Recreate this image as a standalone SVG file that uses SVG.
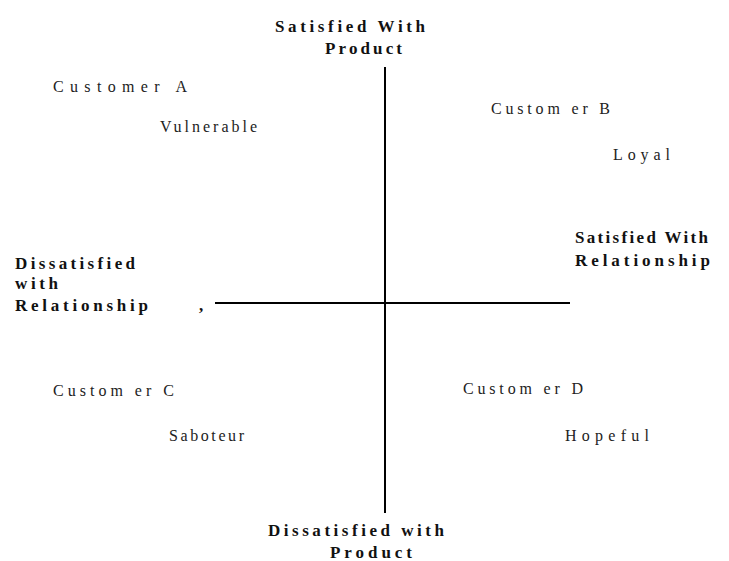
<svg xmlns="http://www.w3.org/2000/svg" width="729" height="561" viewBox="0 0 729 561">
<style>
.b{font-family:"Liberation Serif","Times New Roman",serif;font-weight:bold;font-size:17px;fill:#111}
.r{font-family:"Liberation Serif","Times New Roman",serif;font-size:16px;fill:#222}
.ax{stroke:#000;stroke-width:2;fill:none}
</style>
<rect width="729" height="561" fill="#fff"/>
<g id="connectors">
<line class="ax" x1="385" y1="67" x2="385" y2="513"/>
<line class="ax" x1="215" y1="303" x2="570" y2="303"/>
</g>
<g id="top-label"><text class="b" x="275" y="32" textLength="150" lengthAdjust="spacing">Satisfied With</text><text class="b" x="325" y="54" textLength="77" lengthAdjust="spacing">Product</text></g>
<g id="left-label"><text class="b" x="15" y="269" textLength="120" lengthAdjust="spacing">Dissatisfied</text><text class="b" x="15" y="289" textLength="43" lengthAdjust="spacing">with</text><text class="b" x="15" y="311" textLength="133" lengthAdjust="spacing">Relationship</text><text class="b" x="199" y="311">,</text></g>
<g id="right-label"><text class="b" x="575" y="243" textLength="133" lengthAdjust="spacing">Satisfied With</text><text class="b" x="575" y="266" textLength="135" lengthAdjust="spacing">Relationship</text></g>
<g id="bottom-label"><text class="b" x="268" y="536" textLength="176" lengthAdjust="spacing">Dissatisfied with</text><text class="b" x="330" y="558" textLength="82" lengthAdjust="spacing">Product</text></g>
<g id="customer-a"><text class="r" x="53" y="92" textLength="134" lengthAdjust="spacing">Customer A</text><text class="r" x="160" y="132" textLength="97" lengthAdjust="spacing">Vulnerable</text></g>
<g id="customer-b"><text class="r" x="491" y="114" textLength="119" lengthAdjust="spacing">Custom er B</text><text class="r" x="613" y="160" textLength="57" lengthAdjust="spacing">Loyal</text></g>
<g id="customer-c"><text class="r" x="53" y="396" textLength="121" lengthAdjust="spacing">Custom er C</text><text class="r" x="169" y="441" textLength="75" lengthAdjust="spacing">Saboteur</text></g>
<g id="customer-d"><text class="r" x="463" y="394" textLength="120" lengthAdjust="spacing">Custom er D</text><text class="r" x="565" y="441" textLength="84" lengthAdjust="spacing">Hopeful</text></g>
</svg>
